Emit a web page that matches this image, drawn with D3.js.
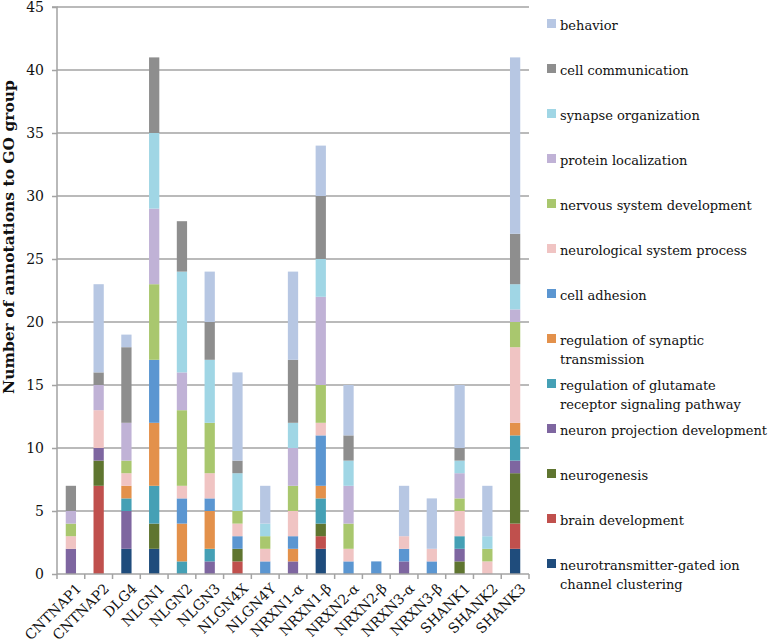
<!DOCTYPE html>
<html><head><meta charset="utf-8">
<script src="https://cdn.jsdelivr.net/npm/d3@7"></script>
<style>
body{margin:0;background:#fff;}
svg text{font-family:"DejaVu Serif","Liberation Serif",serif;}
</style></head>
<body><svg id="c" width="778" height="644"></svg>
<script>
const categories = ["CNTNAP1","CNTNAP2","DLG4","NLGN1","NLGN2","NLGN3","NLGN4X","NLGN4Y","NRXN1-α","NRXN1-β","NRXN2-α","NRXN2-β","NRXN3-α","NRXN3-β","SHANK1","SHANK2","SHANK3"];
// stacked bottom -> top
const seriesNames = ["neurotransmitter-gated ion channel clustering","brain development","neurogenesis","neuron projection development","regulation of glutamate receptor signaling pathway","regulation of synaptic transmission","cell adhesion","neurological system process","nervous system development","protein localization","synapse organization","cell communication","behavior"];
const neurotransmitterGated = [0,0,2,2,0,0,0,0,0,2,0,0,0,0,0,0,2];
const brainDevelopment      = [0,7,0,0,0,0,1,0,0,1,0,0,0,0,0,0,2];
const neurogenesis          = [0,2,0,2,0,0,1,0,0,1,0,0,0,0,1,0,4];
const neuronProjection      = [2,1,3,0,0,1,0,0,1,0,0,0,1,0,1,0,1];
const regGlutamate          = [0,0,1,3,1,1,0,0,0,2,0,0,0,0,1,0,2];
const regSynaptic           = [0,0,1,5,3,3,0,0,1,1,0,0,0,0,0,0,1];
const cellAdhesion          = [0,0,0,5,2,1,1,1,1,4,1,1,1,1,0,0,0];
const neurologicalProcess   = [1,3,1,0,1,2,1,1,2,1,1,0,1,1,2,1,6];
const nervousDevelopment    = [1,0,1,6,6,4,1,1,2,3,2,0,0,0,1,1,2];
const proteinLocalization   = [1,2,3,6,3,0,0,0,3,7,3,0,0,0,2,0,1];
const synapseOrganization   = [0,0,0,6,8,5,3,1,2,3,2,0,0,0,1,1,2];
const cellCommunication     = [2,1,6,6,4,3,1,0,5,5,2,0,0,0,1,0,4];
const behavior              = [0,7,1,0,0,4,7,3,7,4,4,0,4,4,5,4,14];
const seriesValues = [neurotransmitterGated,brainDevelopment,neurogenesis,neuronProjection,regGlutamate,regSynaptic,cellAdhesion,neurologicalProcess,nervousDevelopment,proteinLocalization,synapseOrganization,cellCommunication,behavior];
const colors = ["#1f4c7c","#c0504d","#5f7530","#7e66a0","#45a0b5","#e3914b","#5b96d1","#f0c4c3","#a9c76e","#c0b2d6","#a0d6e5","#8e8e8e","#b7c7e3"];
const yTicks = [0,5,10,15,20,25,30,35,40,45];
// legend (top to bottom), with line breaks
const legendLines = [["behavior"],["cell communication"],["synapse organization"],["protein localization"],["nervous system development"],["neurological system process"],["cell adhesion"],["regulation of synaptic","transmission"],["regulation of glutamate","receptor signaling pathway"],["neuron projection development"],["neurogenesis"],["brain development"],["neurotransmitter-gated ion","channel clustering"]];

(function(){
const svg = d3.select("#c");
const pL=57, pR=529, pT=7, pB=574;
const x = d3.scaleBand().domain(categories).range([pL,pR]).paddingInner(0.63).paddingOuter(0.315);
const xb = d3.scaleBand().domain(categories).range([pL,pR]);
const y = d3.scaleLinear().domain([0,45]).range([pB,pT]);
const grey = "#a3a3a3";

svg.append("g").selectAll("line").data(yTicks.filter(d=>d>0)).join("line")
  .attr("x1",pL).attr("x2",pR).attr("y1",d=>y(d)).attr("y2",d=>y(d))
  .attr("stroke",grey).attr("stroke-width",1.5);

const table = categories.map((c,i)=>{const o={cat:c}; seriesNames.forEach((s,j)=>o[s]=seriesValues[j][i]); return o;});
const stack = d3.stack().keys(seriesNames)(table);
svg.append("g").selectAll("g").data(stack).join("g").attr("fill",(d,i)=>colors[i])
  .selectAll("rect").data(d=>d.filter(p=>p[1]-p[0]>0)).join("rect")
  .attr("x",d=>x(d.data.cat)).attr("width",x.bandwidth())
  .attr("y",d=>y(d[1])).attr("height",d=>y(d[0])-y(d[1]));

const ya = d3.axisLeft(y).tickValues(yTicks).tickSize(5).tickPadding(8);
const yg = svg.append("g").attr("transform",`translate(${pL},0)`).call(ya);
yg.select(".domain").attr("stroke",grey).attr("stroke-width",1.5).attr("d",`M-5,${y(45)}H0V${pB}`);
yg.selectAll(".tick line").attr("stroke",grey).attr("stroke-width",1.5);
yg.selectAll("text").attr("fill","#111").style("font-family","'DejaVu Serif',serif").attr("font-size",14);

const xa = d3.axisBottom(xb).tickSize(0).tickFormat("");
const xg = svg.append("g").attr("transform",`translate(0,${pB})`).call(xa);
xg.select(".domain").attr("stroke",grey).attr("stroke-width",1.5).attr("d",`M${pL},0H${pR}`);
xg.selectAll(".tick").remove();
xg.selectAll("line.sep").data(d3.range(categories.length+1)).join("line").attr("class","sep")
  .attr("x1",i=>pL+i*xb.step()).attr("x2",i=>pL+i*xb.step()).attr("y1",0).attr("y2",5)
  .attr("stroke",grey).attr("stroke-width",1.5);
svg.append("g").selectAll("text").data(categories).join("text")
  .attr("transform",d=>`translate(${xb(d)+xb.bandwidth()/2+8},${pB+12}) rotate(-45)`)
  .attr("text-anchor","end").attr("dy","0.35em").attr("font-size",14).attr("fill","#111")
  .style("font-family","'DejaVu Serif',serif").text(d=>d);

svg.append("text").attr("transform",`translate(9,237) rotate(-90)`)
  .attr("text-anchor","middle").attr("dy","0.35em").attr("font-size",15.5).attr("font-weight","bold")
  .attr("fill","#111").style("font-family","'DejaVu Serif',serif").text("Number of annotations to GO group");

const lg = svg.append("g");
legendLines.forEach((lines,i)=>{
  const base = 30 + i*45;
  const ci = seriesNames.length-1-i;
  lg.append("rect").attr("x",547).attr("y",base-11).attr("width",9).attr("height",9).attr("fill",colors[ci]);
  lines.forEach((t,k)=>{
    lg.append("text").attr("x",560).attr("y",base+k*19).attr("font-size",13)
      .attr("fill","#111").style("font-family","'DejaVu Serif',serif").text(t);
  });
});
})();
</script></body></html>
